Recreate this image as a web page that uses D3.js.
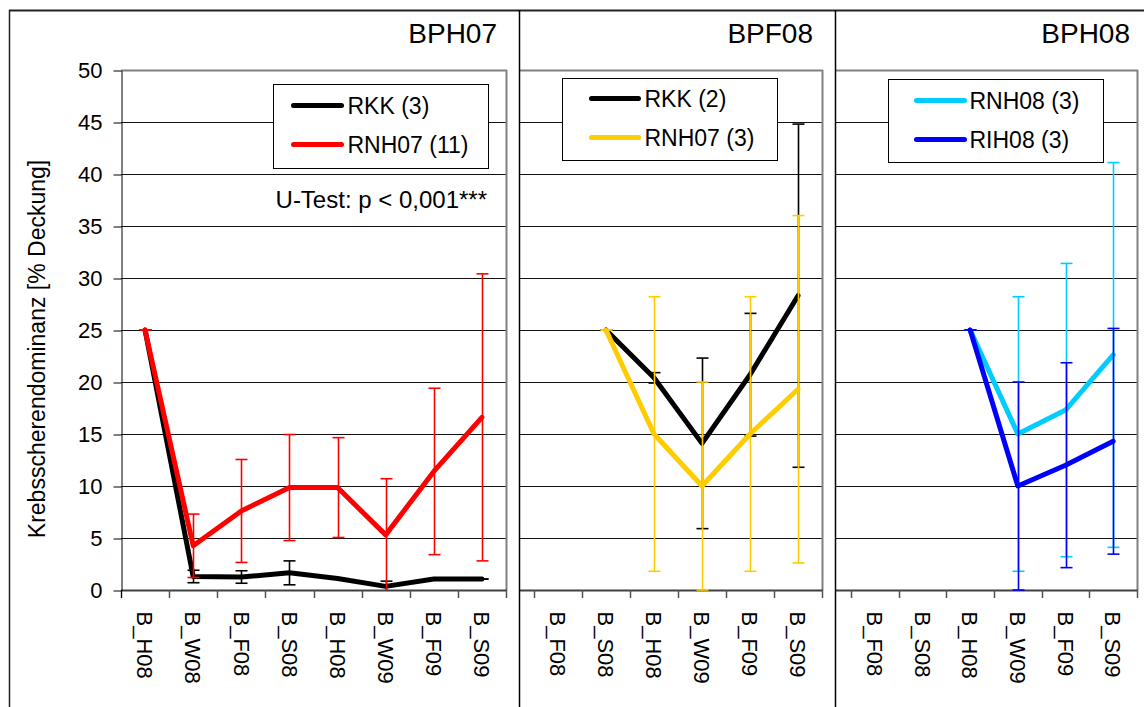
<!DOCTYPE html>
<html><head><meta charset="utf-8">
<script src="https://cdn.jsdelivr.net/npm/d3@7"></script>
<style>body{margin:0;background:#fff} svg{display:block;font-family:Arial,"Liberation Sans",sans-serif}</style>
</head><body><svg id="c" width="1144" height="707"></svg>
<script>
// ---------- data ----------
const yTickValues = [0,5,10,15,20,25,30,35,40,45,50];
const yTitle = "Krebsscherendominanz [% Deckung]";
const panelTitles = ["BPH07","BPF08","BPH08"];
const uTestNote = "U-Test: p < 0,001***";

const p1Categories = ["B_H08","B_W08","B_F08","B_S08","B_H08","B_W09","B_F09","B_S09"];
const p1RKK      = [25, 1.3, 1.25, 1.65, 1.1, 0.35, 1.05, 1.05];
const p1RKKsd    = [0, 0.6, 0.6, 1.15, 0, 0.5, 0, 0];
const p1RNH07    = [25, 4.25, 7.6, 9.85, 9.85, 5.3, 11.4, 16.6];
const p1RNH07sd  = [0, 3.05, 4.95, 5.1, 4.8, 5.4, 8.0, 13.8];

const p2Categories = ["B_F08","B_S08","B_H08","B_W09","B_F09","B_S09"];
const p2RKK      = [null, 25, 20.4, 14.1, 20.7, 28.3];
const p2RKKsd    = [null, 0, 0.5, 8.2, 5.9, 16.5];
const p2RNH07    = [null, 25, 15, 10, 15, 19.3];
const p2RNH07sd  = [null, 0, 13.2, 10, 13.2, 16.7];

const p3Categories = ["B_F08","B_S08","B_H08","B_W09","B_F09","B_S09"];
const p3RNH08    = [null, null, 25, 15, 17.3, 22.6];
const p3RNH08sd  = [null, null, 0, 13.2, 14.1, 18.5];
const p3RIH08    = [null, null, 25, 10, 12, 14.3];
const p3RIH08sd  = [null, null, 0, 10, 9.85, 10.85];

// ---------- layout ----------
const panels = [
  {title: panelTitles[0], cats: p1Categories, frameX: 9, plotX0: 121, bandX0: 121, plotX1: 506, titleRight: 497,
   series: [{name:"RKK (3)", v:p1RKK, sd:p1RKKsd, color:"#000000"},
            {name:"RNH07 (11)", v:p1RNH07, sd:p1RNH07sd, color:"#FF0000"}],
   legend: {x:273, y:84, w:215, h:84, s0:20, s1:68, tx:74, rows:[21,60]}, note: true, yAxis: true},
  {title: panelTitles[1], cats: p2Categories, frameX: 519, plotX0: 519, bandX0: 534, plotX1: 822, titleRight: 813,
   series: [{name:"RKK (2)", v:p2RKK, sd:p2RKKsd, color:"#000000"},
            {name:"RNH07 (3)", v:p2RNH07, sd:p2RNH07sd, color:"#FFCC00"}],
   legend: {x:562, y:78, w:215, h:82, s0:29, s1:76, tx:82, rows:[20,59]}},
  {title: panelTitles[2], cats: p3Categories, frameX: 835, plotX0: 835, bandX0: 851, plotX1: 1137, titleRight: 1130,
   series: [{name:"RNH08 (3)", v:p3RNH08, sd:p3RNH08sd, color:"#00CCFF"},
            {name:"RIH08 (3)", v:p3RIH08, sd:p3RIH08sd, color:"#0000FF"}],
   legend: {x:888, y:79, w:215, h:83, s0:28, s1:76, tx:81, rows:[21,60]}}
];

const svg = d3.select("#c");
const y = d3.scaleLinear().domain([0,50]).range([590,70]).clamp(true);
const FONT_TICK = 22, FONT_LEG = 23, FONT_TITLE = 28;

// outer frame
svg.append("line").attr("x1",9).attr("x2",1144).attr("y1",10.5).attr("y2",10.5).attr("stroke","#222").attr("stroke-width",2);
svg.append("line").attr("x1",9.5).attr("x2",9.5).attr("y1",10).attr("y2",707).attr("stroke","#222").attr("stroke-width",1.5);

panels.forEach((p, pi) => {
  const g = svg.append("g");
  const x = d3.scaleBand().domain(d3.range(p.cats.length)).range([p.bandX0, p.plotX1]).padding(0);

  // gridlines
  g.selectAll(".grid").data(yTickValues.filter(t => t > 0 && t < 50)).join("line")
    .attr("x1", p.plotX0).attr("x2", p.plotX1)
    .attr("y1", d => y(d) + 0.5).attr("y2", d => y(d) + 0.5)
    .attr("stroke", "#111").attr("stroke-width", 1);
  // plot area top and right border
  g.append("line").attr("x1", p.plotX0).attr("x2", p.plotX1 + 1).attr("y1", y(50) + 0.5).attr("y2", y(50) + 0.5)
    .attr("stroke", "#808080").attr("stroke-width", 2);
  g.append("line").attr("x1", p.plotX1 + 0.5).attr("x2", p.plotX1 + 0.5).attr("y1", y(50)).attr("y2", y(0))
    .attr("stroke", "#808080").attr("stroke-width", 2);

  // x axis
  const xAxis = d3.axisBottom(x).tickSize(0).tickFormat(i => p.cats[i]);
  const ax = g.append("g").attr("transform", `translate(0,${y(0) + 0.5})`).call(xAxis);
  ax.select(".domain").remove();
  ax.selectAll(".tick line").remove();
  ax.selectAll(".tick text")
    .attr("transform", "translate(0,21) rotate(90)")
    .attr("x", 0).attr("y", 0).attr("dy", "0.35em")
    .style("text-anchor", "start")
    .attr("font-size", FONT_TICK).attr("font-family", "Arial, 'Liberation Sans', sans-serif").attr("fill", "#000");
  g.append("line").attr("x1", p.plotX0).attr("x2", p.plotX1 + 1).attr("y1", y(0) + 0.5).attr("y2", y(0) + 0.5)
    .attr("stroke", "#404040").attr("stroke-width", 2);
  const bounds = d3.range(p.cats.length + 1).map(i => i < p.cats.length ? x(i) : x(p.cats.length - 1) + x.bandwidth());
  g.selectAll(".xt").data(bounds).join("line")
    .attr("x1", d => Math.round(d) + 0.5).attr("x2", d => Math.round(d) + 0.5)
    .attr("y1", y(0)).attr("y2", y(0) + 8)
    .attr("stroke", "#505050").attr("stroke-width", 1.5);

  // y axis
  if (p.yAxis) {
    const yAxis = d3.axisLeft(y).tickValues(yTickValues).tickSize(8).tickPadding(11).tickSizeOuter(0);
    const ay = g.append("g").attr("transform", `translate(${p.plotX0 + 0.5},0.5)`).call(yAxis);
    ay.select(".domain").attr("stroke", "#000");
    ay.selectAll(".tick line").attr("stroke", "#000");
    ay.selectAll(".tick text").attr("font-size", FONT_TICK).attr("font-family", "Arial, 'Liberation Sans', sans-serif").attr("fill", "#000");
    g.append("line").attr("x1", p.plotX0 + 0.5).attr("x2", p.plotX0 + 0.5).attr("y1", y(0)).attr("y2", y(0) + 8)
      .attr("stroke", "#000").attr("stroke-width", 1);
    g.append("text").attr("transform", "translate(37,349) rotate(-90)")
      .attr("text-anchor", "middle").attr("dy", "0.35em").attr("font-size", 23).text(yTitle);
  }

  // panel separator
  if (pi > 0) {
    g.append("line").attr("x1", p.frameX + 0.5).attr("x2", p.frameX + 0.5).attr("y1", 10).attr("y2", 707)
      .attr("stroke", "#000").attr("stroke-width", 1.5);
  }

  // series
  const cx = i => x(i) + x.bandwidth() / 2;
  p.series.forEach(s => {
    const pts = s.v.map((v, i) => ({i, v, sd: s.sd[i]})).filter(d => d.v !== null);
    const line = d3.line().x(d => cx(d.i)).y(d => y(d.v));
    g.append("path").datum(pts).attr("d", line).attr("fill", "none")
      .attr("stroke", s.color).attr("stroke-width", 5).attr("stroke-linejoin", "round").attr("stroke-linecap", "round");
    const eb = g.append("g").attr("stroke", s.color).attr("stroke-width", 1.6);
    pts.forEach(d => {
      const lo = d.v - d.sd, hi = d.v + d.sd;
      const xc = Math.round(cx(d.i)) + 0.5;
      eb.append("line").attr("x1", xc).attr("x2", xc).attr("y1", y(lo)).attr("y2", y(hi));
      eb.append("line").attr("x1", xc - 6).attr("x2", xc + 6).attr("y1", y(hi)).attr("y2", y(hi));
      if (lo >= 0) eb.append("line").attr("x1", xc - 6).attr("x2", xc + 6).attr("y1", y(lo)).attr("y2", y(lo));
    });
  });

  // title
  g.append("text").attr("x", p.titleRight).attr("y", 43).attr("text-anchor", "end")
    .attr("font-size", FONT_TITLE).text(p.title);

  // legend
  const L = p.legend;
  const lg = g.append("g").attr("transform", `translate(${L.x + 0.5},${L.y + 0.5})`);
  lg.append("rect").attr("width", L.w).attr("height", L.h).attr("fill", "#fff").attr("stroke", "#000").attr("stroke-width", 1);
  p.series.forEach((s, k) => {
    lg.append("line").attr("x1", L.s0).attr("x2", L.s1).attr("y1", L.rows[k]).attr("y2", L.rows[k])
      .attr("stroke", s.color).attr("stroke-width", 5).attr("stroke-linecap", "round");
    lg.append("text").attr("x", L.tx).attr("y", L.rows[k] + 8).attr("font-size", FONT_LEG).text(s.name);
  });

  if (p.note) {
    g.append("text").attr("x", 487).attr("y", 208).attr("text-anchor", "end").attr("font-size", 24).text(uTestNote);
  }
});
</script></body></html>
